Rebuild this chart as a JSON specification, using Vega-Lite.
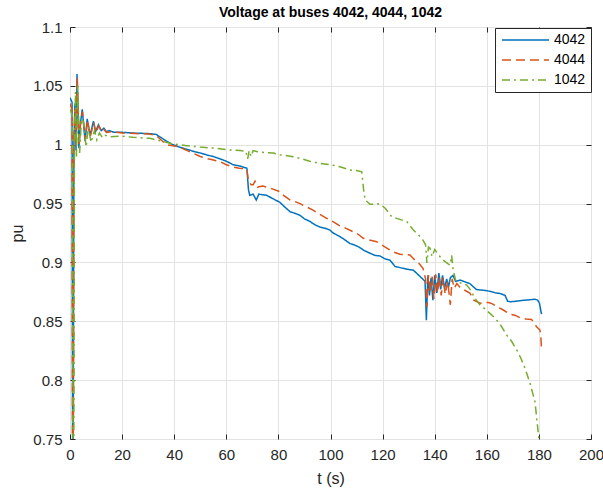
{
  "$schema": "https://vega.github.io/schema/vega-lite/v6.json",
  "width": 521,
  "height": 412,
  "autosize": "none",
  "padding": {"left": 70, "top": 27, "right": 12, "bottom": 51},
  "background": "white",
  "config": {
    "font": "Liberation Sans",
    "view": {"stroke": "#262626", "strokeWidth": 1}
  },
  "title": {
    "text": "Voltage at buses 4042, 4044, 1042",
    "fontSize": 14,
    "fontWeight": "bold",
    "color": "black",
    "anchor": "middle",
    "offset": 0
  },
  "data": {
    "values": [
      {"t":0,"v":1.040,"bus":"4042"},{"t":0.8,"v":1.036,"bus":"4042"},{"t":1.1,"v":0.60,"bus":"4042"},{"t":1.5,"v":1.000,"bus":"4042"},{"t":1.9,"v":1.035,"bus":"4042"},{"t":2.3,"v":0.995,"bus":"4042"},{"t":2.7,"v":1.060,"bus":"4042"},{"t":3.4,"v":0.997,"bus":"4042"},{"t":4.0,"v":1.018,"bus":"4042"},{"t":4.7,"v":1.030,"bus":"4042"},{"t":5.8,"v":1.003,"bus":"4042"},{"t":6.6,"v":1.022,"bus":"4042"},{"t":7.7,"v":1.008,"bus":"4042"},{"t":9.0,"v":1.020,"bus":"4042"},{"t":9.8,"v":1.011,"bus":"4042"},{"t":10.9,"v":1.017,"bus":"4042"},{"t":12.0,"v":1.012,"bus":"4042"},{"t":13.0,"v":1.014,"bus":"4042"},{"t":14.0,"v":1.011,"bus":"4042"},{"t":15,"v":1.012,"bus":"4042"},{"t":17,"v":1.0105,"bus":"4042"},{"t":20,"v":1.0105,"bus":"4042"},{"t":25,"v":1.0098,"bus":"4042"},{"t":30,"v":1.0095,"bus":"4042"},{"t":33,"v":1.0088,"bus":"4042"},{"t":35,"v":1.006,"bus":"4042"},{"t":37,"v":1.003,"bus":"4042"},{"t":39.5,"v":1.000,"bus":"4042"},{"t":42,"v":0.998,"bus":"4042"},{"t":45,"v":0.996,"bus":"4042"},{"t":48,"v":0.994,"bus":"4042"},{"t":50,"v":0.993,"bus":"4042"},{"t":53,"v":0.991,"bus":"4042"},{"t":55,"v":0.990,"bus":"4042"},{"t":57.6,"v":0.988,"bus":"4042"},{"t":60,"v":0.986,"bus":"4042"},{"t":62.6,"v":0.983,"bus":"4042"},{"t":65,"v":0.982,"bus":"4042"},{"t":67.9,"v":0.980,"bus":"4042"},{"t":68.5,"v":0.962,"bus":"4042"},{"t":69,"v":0.957,"bus":"4042"},{"t":70.3,"v":0.958,"bus":"4042"},{"t":71.5,"v":0.953,"bus":"4042"},{"t":72.5,"v":0.958,"bus":"4042"},{"t":75.5,"v":0.957,"bus":"4042"},{"t":78,"v":0.954,"bus":"4042"},{"t":80.6,"v":0.951,"bus":"4042"},{"t":82,"v":0.948,"bus":"4042"},{"t":84.5,"v":0.943,"bus":"4042"},{"t":86,"v":0.942,"bus":"4042"},{"t":88.3,"v":0.940,"bus":"4042"},{"t":90,"v":0.937,"bus":"4042"},{"t":92,"v":0.935,"bus":"4042"},{"t":94,"v":0.932,"bus":"4042"},{"t":96,"v":0.930,"bus":"4042"},{"t":98,"v":0.929,"bus":"4042"},{"t":99.8,"v":0.9275,"bus":"4042"},{"t":101,"v":0.925,"bus":"4042"},{"t":103.6,"v":0.922,"bus":"4042"},{"t":105,"v":0.920,"bus":"4042"},{"t":107.5,"v":0.916,"bus":"4042"},{"t":109,"v":0.915,"bus":"4042"},{"t":111,"v":0.913,"bus":"4042"},{"t":113,"v":0.910,"bus":"4042"},{"t":115,"v":0.908,"bus":"4042"},{"t":117,"v":0.906,"bus":"4042"},{"t":119,"v":0.9055,"bus":"4042"},{"t":121,"v":0.903,"bus":"4042"},{"t":122.8,"v":0.902,"bus":"4042"},{"t":124.8,"v":0.8965,"bus":"4042"},{"t":126,"v":0.896,"bus":"4042"},{"t":127.8,"v":0.895,"bus":"4042"},{"t":130,"v":0.894,"bus":"4042"},{"t":131.7,"v":0.8935,"bus":"4042"},{"t":133,"v":0.891,"bus":"4042"},{"t":134.4,"v":0.888,"bus":"4042"},{"t":136.3,"v":0.884,"bus":"4042"},{"t":136.8,"v":0.851,"bus":"4042"},{"t":137.4,"v":0.889,"bus":"4042"},{"t":138.0,"v":0.872,"bus":"4042"},{"t":138.6,"v":0.887,"bus":"4042"},{"t":139.3,"v":0.868,"bus":"4042"},{"t":140,"v":0.889,"bus":"4042"},{"t":140.8,"v":0.874,"bus":"4042"},{"t":141.6,"v":0.891,"bus":"4042"},{"t":142.3,"v":0.877,"bus":"4042"},{"t":143,"v":0.889,"bus":"4042"},{"t":143.8,"v":0.878,"bus":"4042"},{"t":144.6,"v":0.886,"bus":"4042"},{"t":145.3,"v":0.879,"bus":"4042"},{"t":146,"v":0.887,"bus":"4042"},{"t":147,"v":0.889,"bus":"4042"},{"t":148,"v":0.884,"bus":"4042"},{"t":149.7,"v":0.885,"bus":"4042"},{"t":151,"v":0.884,"bus":"4042"},{"t":153.5,"v":0.882,"bus":"4042"},{"t":155,"v":0.879,"bus":"4042"},{"t":156,"v":0.877,"bus":"4042"},{"t":158,"v":0.8765,"bus":"4042"},{"t":160,"v":0.876,"bus":"4042"},{"t":162,"v":0.875,"bus":"4042"},{"t":163.5,"v":0.874,"bus":"4042"},{"t":165,"v":0.8737,"bus":"4042"},{"t":167,"v":0.872,"bus":"4042"},{"t":168,"v":0.867,"bus":"4042"},{"t":169,"v":0.8666,"bus":"4042"},{"t":171,"v":0.867,"bus":"4042"},{"t":172.7,"v":0.8675,"bus":"4042"},{"t":175,"v":0.868,"bus":"4042"},{"t":178.5,"v":0.8687,"bus":"4042"},{"t":179.5,"v":0.868,"bus":"4042"},{"t":180.2,"v":0.8655,"bus":"4042"},{"t":181,"v":0.856,"bus":"4042"},

      {"t":0,"v":1.035,"bus":"4044"},{"t":0.8,"v":1.030,"bus":"4044"},{"t":1.1,"v":0.55,"bus":"4044"},{"t":1.5,"v":1.005,"bus":"4044"},{"t":1.9,"v":1.030,"bus":"4044"},{"t":2.3,"v":0.998,"bus":"4044"},{"t":2.8,"v":1.058,"bus":"4044"},{"t":3.5,"v":0.999,"bus":"4044"},{"t":4.1,"v":1.020,"bus":"4044"},{"t":4.8,"v":1.028,"bus":"4044"},{"t":5.9,"v":1.004,"bus":"4044"},{"t":6.7,"v":1.021,"bus":"4044"},{"t":7.8,"v":1.007,"bus":"4044"},{"t":9.1,"v":1.019,"bus":"4044"},{"t":9.9,"v":1.010,"bus":"4044"},{"t":11,"v":1.016,"bus":"4044"},{"t":12.1,"v":1.011,"bus":"4044"},{"t":13,"v":1.013,"bus":"4044"},{"t":14,"v":1.0105,"bus":"4044"},{"t":16,"v":1.011,"bus":"4044"},{"t":20,"v":1.0100,"bus":"4044"},{"t":25,"v":1.0095,"bus":"4044"},{"t":30,"v":1.0092,"bus":"4044"},{"t":33,"v":1.008,"bus":"4044"},{"t":35,"v":1.004,"bus":"4044"},{"t":37,"v":1.000,"bus":"4044"},{"t":40,"v":0.999,"bus":"4044"},{"t":42,"v":0.998,"bus":"4044"},{"t":45,"v":0.995,"bus":"4044"},{"t":48,"v":0.992,"bus":"4044"},{"t":50,"v":0.990,"bus":"4044"},{"t":53,"v":0.988,"bus":"4044"},{"t":55,"v":0.987,"bus":"4044"},{"t":57.6,"v":0.9856,"bus":"4044"},{"t":60,"v":0.983,"bus":"4044"},{"t":62.6,"v":0.981,"bus":"4044"},{"t":65,"v":0.980,"bus":"4044"},{"t":67.9,"v":0.9794,"bus":"4044"},{"t":68.5,"v":0.969,"bus":"4044"},{"t":69.5,"v":0.966,"bus":"4044"},{"t":70.3,"v":0.966,"bus":"4044"},{"t":71,"v":0.969,"bus":"4044"},{"t":72,"v":0.964,"bus":"4044"},{"t":74,"v":0.965,"bus":"4044"},{"t":77,"v":0.963,"bus":"4044"},{"t":80.6,"v":0.960,"bus":"4044"},{"t":82,"v":0.957,"bus":"4044"},{"t":84.5,"v":0.953,"bus":"4044"},{"t":86,"v":0.952,"bus":"4044"},{"t":88.3,"v":0.950,"bus":"4044"},{"t":90,"v":0.948,"bus":"4044"},{"t":93.3,"v":0.9445,"bus":"4044"},{"t":95,"v":0.942,"bus":"4044"},{"t":98.5,"v":0.9375,"bus":"4044"},{"t":100,"v":0.936,"bus":"4044"},{"t":103.6,"v":0.931,"bus":"4044"},{"t":105,"v":0.930,"bus":"4044"},{"t":108.7,"v":0.926,"bus":"4044"},{"t":110,"v":0.925,"bus":"4044"},{"t":112.6,"v":0.9205,"bus":"4044"},{"t":115,"v":0.919,"bus":"4044"},{"t":117.7,"v":0.9176,"bus":"4044"},{"t":119,"v":0.916,"bus":"4044"},{"t":121,"v":0.913,"bus":"4044"},{"t":122.8,"v":0.9105,"bus":"4044"},{"t":124,"v":0.909,"bus":"4044"},{"t":126.7,"v":0.907,"bus":"4044"},{"t":130.5,"v":0.9063,"bus":"4044"},{"t":131.5,"v":0.904,"bus":"4044"},{"t":132.4,"v":0.902,"bus":"4044"},{"t":134,"v":0.899,"bus":"4044"},{"t":135.5,"v":0.895,"bus":"4044"},{"t":136.5,"v":0.886,"bus":"4044"},{"t":137,"v":0.862,"bus":"4044"},{"t":137.6,"v":0.889,"bus":"4044"},{"t":138.3,"v":0.874,"bus":"4044"},{"t":139,"v":0.888,"bus":"4044"},{"t":139.7,"v":0.869,"bus":"4044"},{"t":140.4,"v":0.890,"bus":"4044"},{"t":141.1,"v":0.874,"bus":"4044"},{"t":141.8,"v":0.888,"bus":"4044"},{"t":142.5,"v":0.872,"bus":"4044"},{"t":143.3,"v":0.887,"bus":"4044"},{"t":144,"v":0.873,"bus":"4044"},{"t":145,"v":0.884,"bus":"4044"},{"t":146,"v":0.864,"bus":"4044"},{"t":146.7,"v":0.886,"bus":"4044"},{"t":147.5,"v":0.878,"bus":"4044"},{"t":148.5,"v":0.882,"bus":"4044"},{"t":149.7,"v":0.879,"bus":"4044"},{"t":151,"v":0.877,"bus":"4044"},{"t":153.5,"v":0.874,"bus":"4044"},{"t":155,"v":0.868,"bus":"4044"},{"t":157.4,"v":0.8653,"bus":"4044"},{"t":159,"v":0.866,"bus":"4044"},{"t":160.6,"v":0.866,"bus":"4044"},{"t":162,"v":0.865,"bus":"4044"},{"t":164.3,"v":0.862,"bus":"4044"},{"t":166,"v":0.860,"bus":"4044"},{"t":169,"v":0.856,"bus":"4044"},{"t":171,"v":0.855,"bus":"4044"},{"t":172.7,"v":0.853,"bus":"4044"},{"t":175,"v":0.852,"bus":"4044"},{"t":177.2,"v":0.8516,"bus":"4044"},{"t":179.1,"v":0.8454,"bus":"4044"},{"t":180.4,"v":0.8426,"bus":"4044"},{"t":180.8,"v":0.835,"bus":"4044"},{"t":181,"v":0.826,"bus":"4044"},

      {"t":0,"v":1.030,"bus":"1042"},{"t":0.9,"v":1.025,"bus":"1042"},{"t":1.3,"v":0.55,"bus":"1042"},{"t":1.7,"v":1.000,"bus":"1042"},{"t":2.1,"v":1.045,"bus":"1042"},{"t":2.5,"v":0.990,"bus":"1042"},{"t":3.0,"v":1.050,"bus":"1042"},{"t":3.7,"v":0.993,"bus":"1042"},{"t":4.4,"v":1.022,"bus":"1042"},{"t":5.1,"v":1.020,"bus":"1042"},{"t":6.2,"v":0.998,"bus":"1042"},{"t":7.0,"v":1.015,"bus":"1042"},{"t":8.1,"v":1.002,"bus":"1042"},{"t":9.4,"v":1.012,"bus":"1042"},{"t":10.3,"v":1.004,"bus":"1042"},{"t":11.3,"v":1.010,"bus":"1042"},{"t":12.5,"v":1.006,"bus":"1042"},{"t":13.5,"v":1.008,"bus":"1042"},{"t":15,"v":1.0068,"bus":"1042"},{"t":20,"v":1.0072,"bus":"1042"},{"t":24.2,"v":1.0063,"bus":"1042"},{"t":30.7,"v":1.0054,"bus":"1042"},{"t":34.5,"v":1.0034,"bus":"1042"},{"t":39.5,"v":1.0006,"bus":"1042"},{"t":44.8,"v":0.9992,"bus":"1042"},{"t":50,"v":0.9980,"bus":"1042"},{"t":56,"v":0.9970,"bus":"1042"},{"t":60,"v":0.9958,"bus":"1042"},{"t":65.3,"v":0.9950,"bus":"1042"},{"t":67.5,"v":0.9945,"bus":"1042"},{"t":68.2,"v":0.988,"bus":"1042"},{"t":68.8,"v":0.995,"bus":"1042"},{"t":69.5,"v":0.990,"bus":"1042"},{"t":70.3,"v":0.995,"bus":"1042"},{"t":72,"v":0.994,"bus":"1042"},{"t":75.5,"v":0.9932,"bus":"1042"},{"t":78,"v":0.993,"bus":"1042"},{"t":80.6,"v":0.9915,"bus":"1042"},{"t":85.7,"v":0.9898,"bus":"1042"},{"t":88.3,"v":0.9884,"bus":"1042"},{"t":92,"v":0.986,"bus":"1042"},{"t":96,"v":0.9842,"bus":"1042"},{"t":100,"v":0.9830,"bus":"1042"},{"t":103.6,"v":0.9813,"bus":"1042"},{"t":107.5,"v":0.9785,"bus":"1042"},{"t":110,"v":0.978,"bus":"1042"},{"t":112,"v":0.977,"bus":"1042"},{"t":112.8,"v":0.960,"bus":"1042"},{"t":113.3,"v":0.953,"bus":"1042"},{"t":115.2,"v":0.9494,"bus":"1042"},{"t":119,"v":0.9496,"bus":"1042"},{"t":121,"v":0.946,"bus":"1042"},{"t":123.5,"v":0.9388,"bus":"1042"},{"t":126,"v":0.937,"bus":"1042"},{"t":129.3,"v":0.9346,"bus":"1042"},{"t":131.8,"v":0.9275,"bus":"1042"},{"t":133.5,"v":0.924,"bus":"1042"},{"t":135.5,"v":0.919,"bus":"1042"},{"t":136.5,"v":0.915,"bus":"1042"},{"t":137,"v":0.8995,"bus":"1042"},{"t":137.6,"v":0.913,"bus":"1042"},{"t":138.2,"v":0.912,"bus":"1042"},{"t":139,"v":0.905,"bus":"1042"},{"t":140,"v":0.911,"bus":"1042"},{"t":140.7,"v":0.909,"bus":"1042"},{"t":142,"v":0.905,"bus":"1042"},{"t":143.2,"v":0.902,"bus":"1042"},{"t":145,"v":0.899,"bus":"1042"},{"t":145.9,"v":0.8978,"bus":"1042"},{"t":146.5,"v":0.906,"bus":"1042"},{"t":147,"v":0.895,"bus":"1042"},{"t":148,"v":0.885,"bus":"1042"},{"t":149,"v":0.8836,"bus":"1042"},{"t":150.5,"v":0.882,"bus":"1042"},{"t":152.3,"v":0.8808,"bus":"1042"},{"t":154,"v":0.876,"bus":"1042"},{"t":155,"v":0.8709,"bus":"1042"},{"t":157.4,"v":0.8638,"bus":"1042"},{"t":159,"v":0.861,"bus":"1042"},{"t":161.2,"v":0.8567,"bus":"1042"},{"t":163,"v":0.853,"bus":"1042"},{"t":165,"v":0.848,"bus":"1042"},{"t":167.6,"v":0.8383,"bus":"1042"},{"t":169.5,"v":0.833,"bus":"1042"},{"t":171.5,"v":0.8256,"bus":"1042"},{"t":173,"v":0.819,"bus":"1042"},{"t":174.7,"v":0.810,"bus":"1042"},{"t":176.6,"v":0.7973,"bus":"1042"},{"t":178.5,"v":0.7817,"bus":"1042"},{"t":179.5,"v":0.7604,"bus":"1042"},{"t":179.9,"v":0.752,"bus":"1042"},{"t":180.1,"v":0.70,"bus":"1042"}
    ]
  },
  "layer": [
    {
      "mark": {"type": "line", "clip": true, "strokeWidth": 1.5},
      "encoding": {
        "x": {
          "field": "t", "type": "quantitative",
          "scale": {"domain": [0, 200], "nice": false, "zero": false},
          "axis": {
            "orient": "bottom",
            "values": [0, 20, 40, 60, 80, 100, 120, 140, 160, 180, 200],
            "grid": true, "gridColor": "#e3e3e3", "gridWidth": 1,
            "domain": false, "tickSize": -5, "tickColor": "#262626",
            "labelFlush": false, "labelOverlap": false,
            "labelPadding": 13, "labelFontSize": 15, "labelColor": "#262626",
            "title": "t (s)", "titleFontSize": 16, "titleFontWeight": "normal",
            "titleColor": "#262626", "titlePadding": 8
          }
        },
        "y": {
          "field": "v", "type": "quantitative",
          "scale": {"domain": [0.75, 1.1], "nice": false, "zero": false},
          "axis": {
            "orient": "left",
            "values": [0.75, 0.8, 0.85, 0.9, 0.95, 1, 1.05, 1.1],
            "format": ".2~f",
            "grid": true, "gridColor": "#e3e3e3", "gridWidth": 1,
            "domain": false, "tickSize": -5, "tickColor": "#262626",
            "labelFlush": false, "labelOverlap": false,
            "labelPadding": 13, "labelFontSize": 15, "labelColor": "#262626",
            "title": "pu", "titleFontSize": 16, "titleFontWeight": "normal",
            "titleColor": "#262626", "titlePadding": 7
          }
        },
        "color": {
          "field": "bus", "type": "nominal",
          "scale": {"domain": ["4042", "4044", "1042"], "range": ["#0072BD", "#D95319", "#77AC30"]},
          "legend": {
            "orient": "none", "legendX": 425, "legendY": 1,
            "title": null, "symbolType": "M-1,0H8.4", "symbolSize": 100,
            "symbolStrokeWidth": 1.5, "labelFontSize": 14, "labelColor": "black",
            "strokeColor": "#262626", "fillColor": "white", "padding": 5,
            "labelOffset": 40, "rowPadding": 6
          }
        },
        "strokeDash": {
          "field": "bus", "type": "nominal",
          "scale": {"domain": ["4042", "4044", "1042"], "range": [[1, 0], [9, 5], [8, 4, 2, 4]]},
          "legend": {
            "orient": "none", "legendX": 425, "legendY": 1,
            "title": null, "symbolType": "M-1,0H8.4", "symbolSize": 100,
            "symbolStrokeWidth": 1.5, "labelFontSize": 14, "labelColor": "black",
            "strokeColor": "#262626", "fillColor": "white", "padding": 5,
            "labelOffset": 40, "rowPadding": 6
          }
        }
      }
    },
    {
      "mark": {"type": "point", "opacity": 0},
      "encoding": {
        "x": {
          "field": "t", "type": "quantitative",
          "axis": {
            "orient": "top", "values": [0, 20, 40, 60, 80, 100, 120, 140, 160, 180, 200],
            "grid": false, "domain": false, "labels": false, "title": null,
            "tickSize": -5, "tickColor": "#262626"
          }
        },
        "y": {
          "field": "v", "type": "quantitative",
          "axis": {
            "orient": "right", "values": [0.75, 0.8, 0.85, 0.9, 0.95, 1, 1.05, 1.1],
            "grid": false, "domain": false, "labels": false, "title": null,
            "tickSize": -5, "tickColor": "#262626"
          }
        }
      }
    }
  ],
  "resolve": {"axis": {"x": "independent", "y": "independent"}}
}
